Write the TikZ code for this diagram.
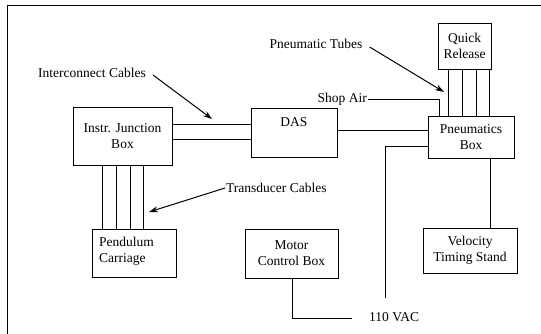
\documentclass[tikz,border=0pt]{standalone}
\usepackage{fontspec}
\setmainfont{Liberation Serif}
\usetikzlibrary{arrows.meta}
\begin{document}
\begin{tikzpicture}[x=1pt,y=-1pt,
  every node/.style={font=\fontsize{13.5}{16}\selectfont},
  blk/.style={draw,line width=0.9pt,inner sep=0pt,align=center},
  wire/.style={line width=0.8pt},
  ptr/.style={line width=1pt,-{Stealth[length=9pt,width=6pt]}},
  lbl/.style={inner sep=1pt}]
\useasboundingbox (0,0) rectangle (541,334);
\draw[line width=0.9pt] (7,334) -- (7,5) -- (541,5);
% boxes
\node[blk,minimum width=99pt,minimum height=58pt] (ijb) at (122.5,136) {Instr. Junction\\Box};
\node[blk,minimum width=86pt,minimum height=49pt] (das) at (294,132.5) {};
\node[lbl] (dastxt) at (294,122) {DAS};
\node[blk,minimum width=53pt,minimum height=46pt] (qr) at (464.5,46) {Quick\\Release};
\node[blk,minimum width=86pt,minimum height=42pt] (pb) at (471,137) {Pneumatics\\Box};
\node[blk,minimum width=84pt,minimum height=48pt] (pc) at (134,253) {};
\node[lbl,anchor=west,align=left] (pctxt) at (98,251) {Pendulum\\Carriage};
\node[blk,minimum width=93pt,minimum height=49pt] (mcb) at (291.5,253.5) {Motor\\Control Box};
\node[blk,minimum width=94pt,minimum height=45pt] (vts) at (470,250.5) {Velocity\\Timing Stand};
% labels
\node[lbl] (ic) at (92,73) {Interconnect Cables};
\node[lbl,anchor=west] (tc) at (225,188) {Transducer Cables};
\node[lbl] (pt) at (316,44) {Pneumatic Tubes};
\node[lbl,anchor=east] (sa) at (368,99) {Shop Air};
\node[lbl,anchor=west] (vac) at (368,317) {110 VAC};
\coordinate (icend) at (212,119);
\coordinate (tcend) at (149,212);
\coordinate (ptend) at (444,92);
\coordinate (sacorner) at (439,99);
\coordinate (pbleft) at (385,146);
\coordinate (pbend) at (385,298);
\coordinate (mcbcorner) at (292,318);
\coordinate (mcbend) at (352,318);
% connectors
\draw[wire] (ijb.east |- 0,124) -- (das.west |- 0,124);
\draw[wire] (ijb.east |- 0,139) -- (das.west |- 0,139);
\foreach \x in {102,116,130,143}
  \draw[wire] (\x,0 |- ijb.south) -- (\x,0 |- pc.north);
\draw[wire] (das.east |- 0,130) -- (pb.west |- 0,130);
\foreach \x in {448,462,476,489}
  \draw[wire] (\x,0 |- qr.south) -- (\x,0 |- pb.north);
\draw[wire] (sa.east) -- (sacorner) -- (sacorner |- pb.north);
\draw[wire] (pb.west |- pbleft) -- (pbleft) -- (pbend);
\draw[wire] (490,0 |- pb.south) -- (490,0 |- vts.north);
\draw[wire] (292,0 |- mcb.south) -- (mcbcorner) -- (mcbend);
\draw[ptr] (ic.east) ++(6,2) -- (icend);
\draw[ptr] (tc.west) -- (tcend);
\draw[ptr] (pt.east) ++(6,3) -- (ptend);
\end{tikzpicture}
\end{document}
